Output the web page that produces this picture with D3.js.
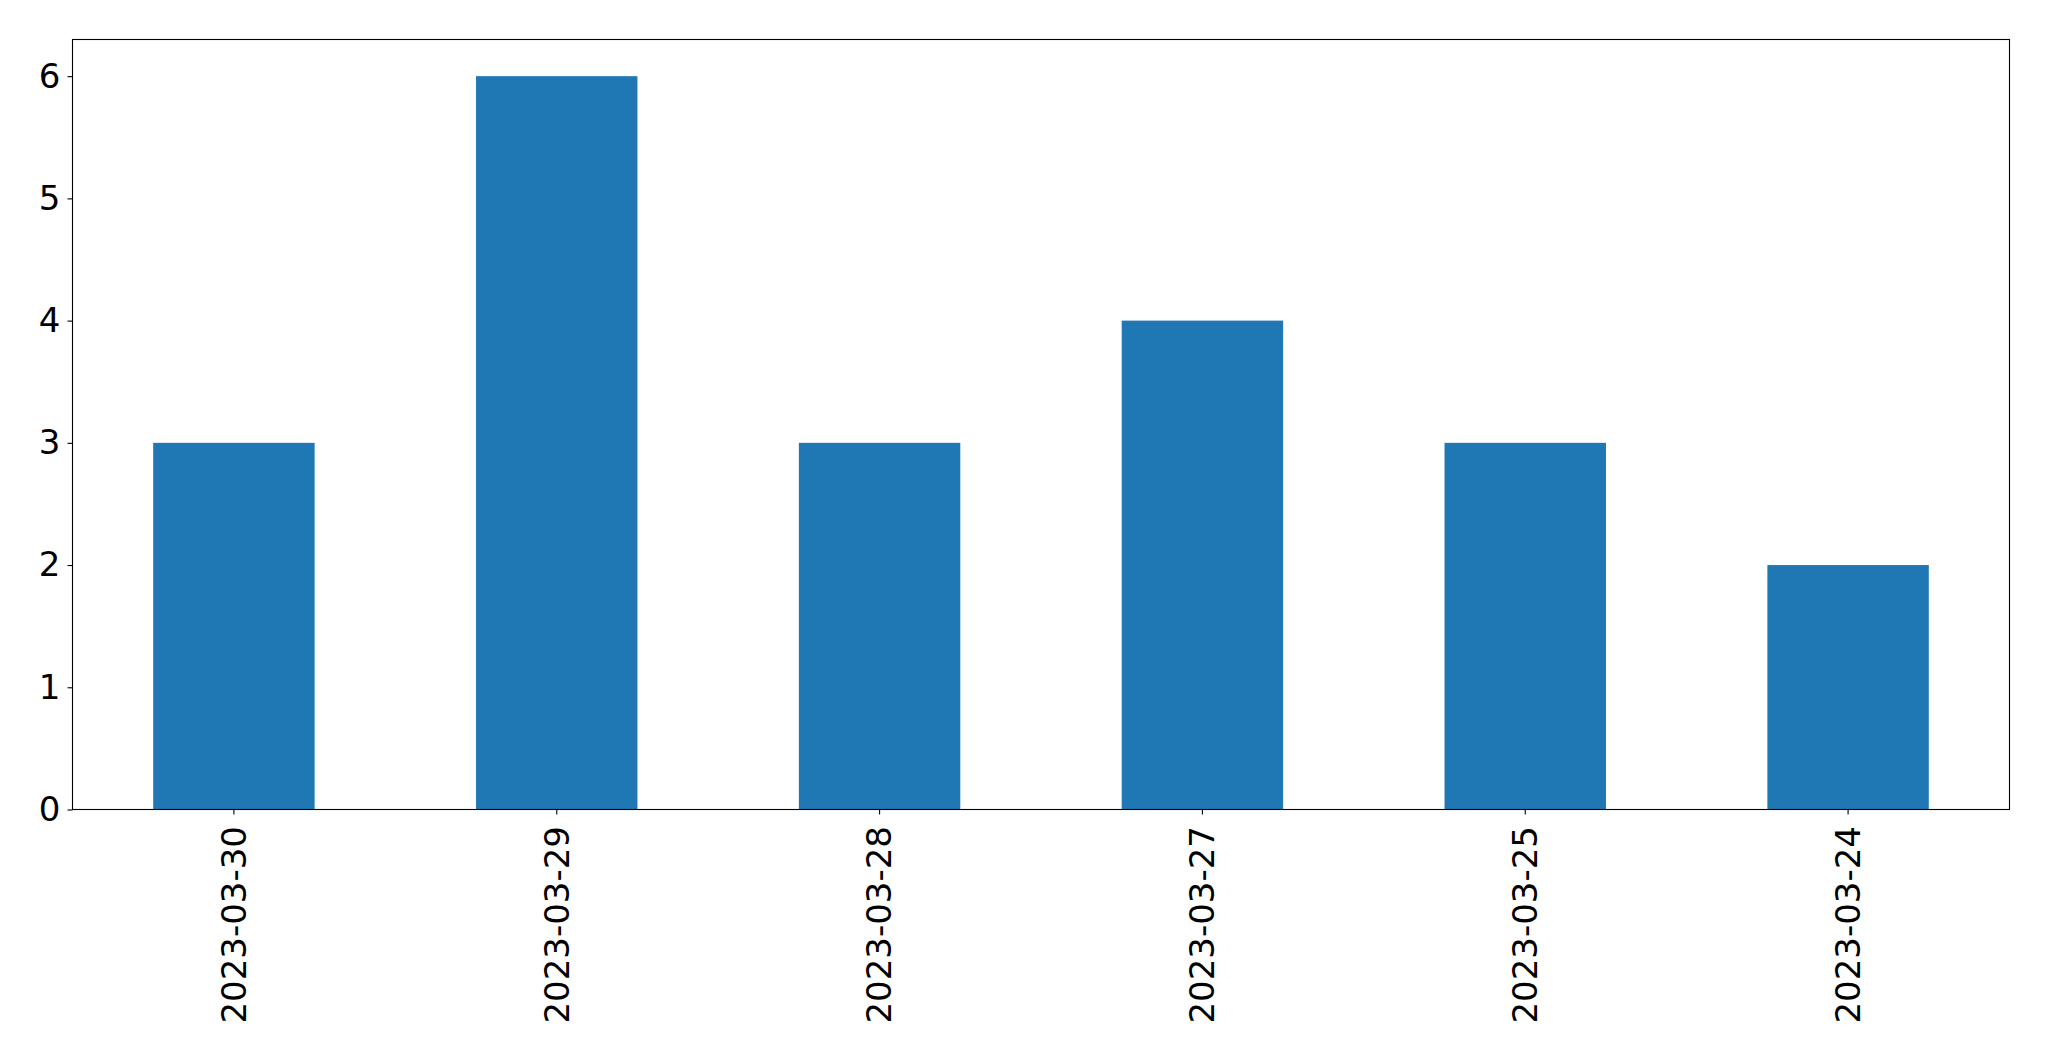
<!DOCTYPE html>
<html>
<head>
<meta charset="utf-8">
<script src="https://cdn.jsdelivr.net/npm/d3@7"></script>
<style>
  html, body { margin: 0; padding: 0; background: #fff; }
  svg { display: block; }
</style>
</head>
<body>
<svg id="chart" width="2049" height="1061"></svg>
<script>
const categories = ["2023-03-30", "2023-03-29", "2023-03-28", "2023-03-27", "2023-03-25", "2023-03-24"];
const values = [3, 6, 3, 4, 3, 2];
const yTicks = [0, 1, 2, 3, 4, 5, 6];

const W = 2049, H = 1061;
const margin = { left: 72.5, right: W - 2009.5, top: 39.5, bottom: H - 809.5 };
const innerW = W - margin.left - margin.right;
const innerH = H - margin.top - margin.bottom;

const svg = d3.select("#chart");
const g = svg.append("g").attr("transform", `translate(${margin.left},${margin.top})`);

const x = d3.scaleBand().domain(categories).range([0, innerW]).paddingInner(0.5).paddingOuter(0.25);
const y = d3.scaleLinear().domain([0, 6.3]).range([innerH, 0]);

g.selectAll("rect.bar")
  .data(values)
  .enter().append("rect")
  .attr("class", "bar")
  .attr("x", (d, i) => x(categories[i]))
  .attr("y", d => y(d))
  .attr("width", x.bandwidth())
  .attr("height", d => y(0) - y(d))
  .attr("fill", "#1f77b4");

const font = "'DejaVu Sans', sans-serif";

const yAxis = g.append("g")
  .call(d3.axisLeft(y).tickValues(yTicks).tickFormat(d3.format("d")).tickSize(5).tickPadding(7));
yAxis.select(".domain").remove();
yAxis.selectAll("text").attr("font-family", font).attr("font-size", 34).attr("fill", "#000");
yAxis.selectAll("line").attr("stroke", "#000").attr("stroke-width", 1.1);

const xAxis = g.append("g")
  .attr("transform", `translate(0,${innerH})`)
  .call(d3.axisBottom(x).tickSize(5).tickPadding(0));
xAxis.select(".domain").remove();
xAxis.selectAll("line").attr("stroke", "#000").attr("stroke-width", 1.1);
xAxis.selectAll("text")
  .attr("font-family", font).attr("font-size", 34).attr("fill", "#000")
  .attr("transform", "rotate(-90)")
  .attr("x", -16.5).attr("y", 0).attr("dy", "0.35em")
  .attr("text-anchor", "end");

g.append("rect")
  .attr("x", 0).attr("y", 0).attr("width", innerW).attr("height", innerH)
  .attr("fill", "none").attr("stroke", "#000").attr("stroke-width", 1.1);
</script>
</body>
</html>
